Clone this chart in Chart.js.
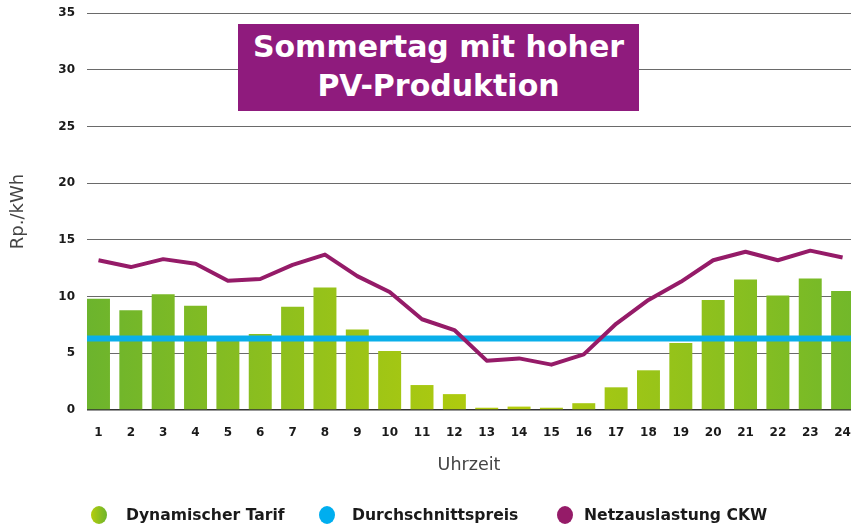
<!DOCTYPE html>
<html>
<head>
<meta charset="utf-8">
<script src="https://cdn.jsdelivr.net/npm/chart.js@4/dist/chart.umd.min.js"></script>
<style>
  body { margin: 0; background: #fff; }
  #wrap { position: relative; width: 851px; height: 526px; overflow: hidden; font-family: "DejaVu Sans", sans-serif; }
  #title {
    position: absolute; left: 238px; top: 24px; width: 401px; height: 87px;
    background: #8f1b7d; color: #fff; font-weight: bold; font-size: 30px;
    line-height: 39px; text-align: center; padding-top: 3px; box-sizing: border-box;
  }
  .dot { position: absolute; top: 506px; width: 16px; height: 18px; border-radius: 50%; }
  .lbl { position: absolute; top: 505px; font-weight: bold; font-size: 15.6px; line-height: 20px; color: #1a1a1a; white-space: nowrap; }
</style>
</head>
<body>
<div id="wrap">
  <canvas id="chart" width="851" height="526"></canvas>
  <div id="title">Sommertag mit hoher<br>PV-Produktion</div>
  <div class="dot" style="left:91px;background:linear-gradient(90deg,#b4cd0c,#6db42c)"></div>
  <div class="lbl" style="left:126px">Dynamischer Tarif</div>
  <div class="dot" style="left:319px;background:#00aeef"></div>
  <div class="lbl" style="left:352px">Durchschnittspreis</div>
  <div class="dot" style="left:557px;background:#951b68"></div>
  <div class="lbl" style="left:584px">Netzauslastung CKW</div>
</div>
<script>
const hours = [1,2,3,4,5,6,7,8,9,10,11,12,13,14,15,16,17,18,19,20,21,22,23,24];
const tarif = [9.8,8.8,10.2,9.2,6.1,6.7,9.1,10.8,7.1,5.2,2.2,1.4,0.2,0.3,0.2,0.6,2.0,3.5,5.9,9.7,11.5,10.1,11.6,10.5];
const netz = [13.2,12.6,13.3,12.9,11.4,11.55,12.8,13.7,11.8,10.4,8.0,7.05,4.35,4.55,4.0,4.9,7.6,9.7,11.3,13.2,13.95,13.2,14.05,13.45];
const avgPrice = 6.3;
const yTicks = [0,5,10,15,20,25,30,35];
const xMin = 0.645, xMax = 24.26;

Chart.defaults.font.family = '"DejaVu Sans", sans-serif';

function barGradient(ctx) {
  const chart = ctx.chart;
  const area = chart.chartArea;
  if (!area) return '#8fc020';
  const g = chart.ctx.createLinearGradient(area.left, 0, area.right, 0);
  g.addColorStop(0, '#6cb42d');
  g.addColorStop(0.55, '#b6cd0b');
  g.addColorStop(1, '#72b82a');
  return g;
}

new Chart(document.getElementById('chart'), {
  type: 'bar',
  data: {
    datasets: [
      {
        type: 'line',
        label: 'Netzauslastung CKW',
        data: hours.map((h, i) => ({ x: h, y: netz[i] })),
        borderColor: '#951b68',
        borderWidth: 4,
        pointRadius: 0,
        borderJoinStyle: 'round',
        order: 1
      },
      {
        type: 'line',
        label: 'Durchschnittspreis',
        data: [{ x: xMin, y: avgPrice }, { x: xMax, y: avgPrice }],
        borderColor: '#0aafea',
        borderWidth: 6,
        pointRadius: 0,
        order: 2
      },
      {
        label: 'Dynamischer Tarif',
        data: hours.map((h, i) => ({ x: h, y: tarif[i] })),
        backgroundColor: barGradient,
        categoryPercentage: 1,
        barPercentage: 0.71,
        order: 3
      }
    ]
  },
  options: {
    responsive: false,
    animation: false,
    layout: { padding: { top: 13, right: 0, bottom: 50, left: 0 } },
    plugins: { legend: { display: false }, tooltip: { enabled: false } },
    scales: {
      x: {
        type: 'linear',
        offset: false,
        min: xMin,
        max: xMax,
        afterBuildTicks: s => { s.ticks = hours.map(v => ({ value: v })); },
        afterFit: s => { s.height = 66; s.paddingLeft = 0; s.paddingRight = 0; },
        grid: { display: false, drawTicks: false },
        border: { display: false },
        ticks: { padding: 16, color: '#1a1a1a', font: { size: 12, weight: 'bold' } },
        title: { display: true, text: 'Uhrzeit', color: '#444', font: { size: 17.5 }, padding: 0 }
      },
      y: {
        min: 0,
        max: 35,
        afterBuildTicks: s => { s.ticks = yTicks.map(v => ({ value: v })); },
        afterFit: s => { s.width = 87; s.paddingTop = 0; s.paddingBottom = 0; },
        grid: {
          drawTicks: false,
          color: c => c.tick && c.tick.value === 0 ? '#333' : '#6a6a6a',
          lineWidth: c => c.tick && c.tick.value === 0 ? 1.5 : 1
        },
        border: { display: false },
        ticks: { padding: 12, color: '#1a1a1a', font: { size: 12, weight: 'bold' } },
        title: { display: true, text: 'Rp./kWh', color: '#444', font: { size: 18 }, padding: { top: 8, bottom: 0 } }
      }
    }
  }
});
</script>
</body>
</html>
